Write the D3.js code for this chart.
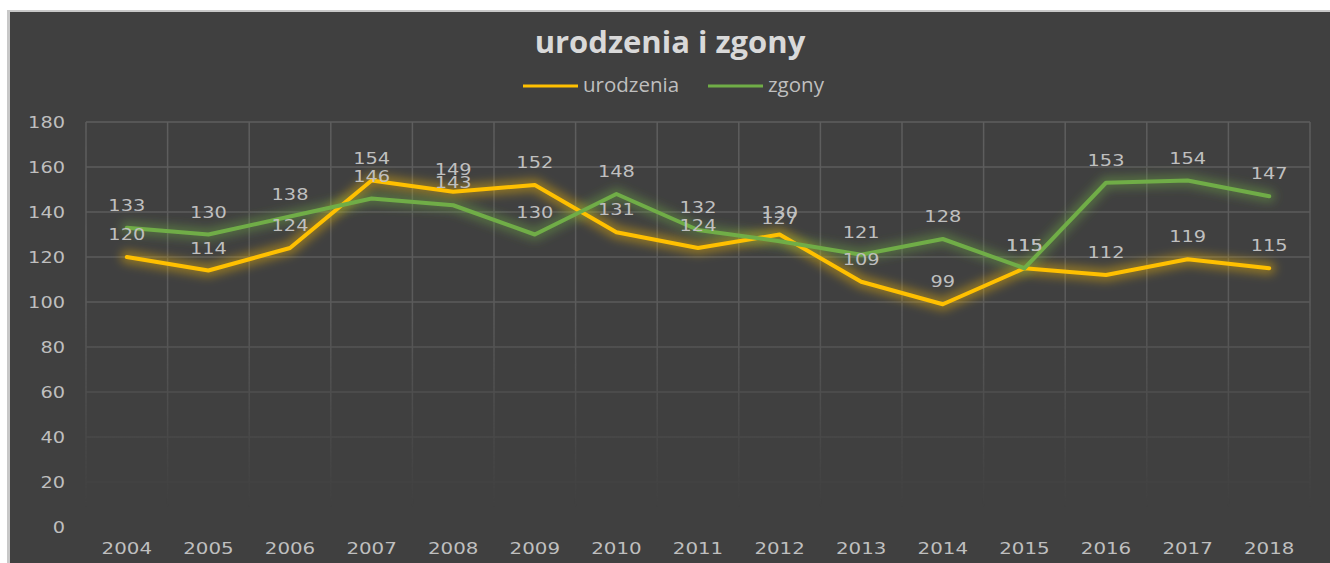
<!DOCTYPE html>
<html><head><meta charset="utf-8">
<script src="https://cdn.jsdelivr.net/npm/d3@7"></script>
<style>html,body{margin:0;padding:0;background:#fff;overflow:hidden}
.num{font-family:"DejaVu Sans",Verdana,sans-serif}
.ttl{font-family:"Open Sans",sans-serif}</style>
</head><body><svg id="c" width="1330" height="563"></svg>
<script>
const years = ["2004","2005","2006","2007","2008","2009","2010","2011","2012","2013","2014","2015","2016","2017","2018"];
const urodzenia = [120,114,124,154,149,152,131,124,130,109,99,115,112,119,115];
const zgony = [133,130,138,146,143,130,148,132,127,121,128,115,153,154,147];
const yTicks = [0,20,40,60,80,100,120,140,160,180];
const seriesNames = ["urodzenia","zgony"];
const seriesColors = ["#FFC000","#70AD47"];
const title = "urodzenia i zgony";

const svg = d3.select("#c");
const W = 1330, H = 563;
const defs = svg.append("defs");
const bf = defs.append("filter").attr("id","blur").attr("filterUnits","userSpaceOnUse")
  .attr("x",0).attr("y",0).attr("width",W).attr("height",H);
bf.append("feGaussianBlur").attr("stdDeviation",5);

const grad = defs.append("linearGradient").attr("id","fade").attr("gradientUnits","userSpaceOnUse")
  .attr("x1",0).attr("y1",122).attr("x2",0).attr("y2",528);
grad.append("stop").attr("offset","0%").attr("stop-color","#fff").attr("stop-opacity",1);
grad.append("stop").attr("offset","45%").attr("stop-color","#fff").attr("stop-opacity",0.9);
grad.append("stop").attr("offset","80%").attr("stop-color","#fff").attr("stop-opacity",0.25);
grad.append("stop").attr("offset","95%").attr("stop-color","#fff").attr("stop-opacity",0);
const mask = defs.append("mask").attr("id","gm").attr("maskUnits","userSpaceOnUse")
  .attr("x",0).attr("y",0).attr("width",W).attr("height",H);
mask.append("rect").attr("x",0).attr("y",0).attr("width",W).attr("height",H).attr("fill","url(#fade)");

// background
svg.append("rect").attr("x",0).attr("y",0).attr("width",W).attr("height",H).attr("fill","#ffffff");
svg.append("rect").attr("x",7).attr("y",10).attr("width",W-7).attr("height",H-10).attr("fill","#c8c8c8");
svg.append("rect").attr("x",10).attr("y",12).attr("width",W-10).attr("height",H-12).attr("fill","#404040");

const x = d3.scaleBand().domain(years).range([86,1310]);
const y = d3.scaleLinear().domain([0,180]).range([527,122]);

// grid
const grid = svg.append("g").attr("mask","url(#gm)");
grid.selectAll("line.h").data(yTicks.filter(v=>v>0)).join("line")
  .attr("x1",86).attr("x2",1310).attr("y1",d=>y(d)).attr("y2",d=>y(d))
  .attr("stroke","#5e5e5e").attr("stroke-width",1.5);
const vx = years.map(d=>x(d)).concat([x.range()[1]]);
grid.selectAll("line.v").data(vx).join("line")
  .attr("x1",d=>d).attr("x2",d=>d).attr("y1",122).attr("y2",527)
  .attr("stroke","#5e5e5e").attr("stroke-width",1.5);

const DW = 12.3; // glyph advance for wide numerals
// axes
const yAxis = svg.append("g").attr("transform","translate(65,0)")
  .call(d3.axisLeft(y).tickValues(yTicks).tickSize(0).tickPadding(0));
yAxis.attr("font-family",null).attr("font-size",null);
yAxis.select(".domain").remove();
yAxis.selectAll("text").attr("class","num").attr("fill","#bfbfbf").style("font-size","16px")
  .attr("textLength",function(){return this.textContent.length*DW;}).attr("lengthAdjust","spacingAndGlyphs");
const xAxis = svg.append("g").attr("transform","translate(0,542)")
  .call(d3.axisBottom(x).tickSize(0).tickPadding(0));
xAxis.attr("font-family",null).attr("font-size",null);
xAxis.select(".domain").remove();
xAxis.selectAll("text").attr("class","num").attr("fill","#bfbfbf").attr("dy","0.71em").style("font-size","16.5px")
  .attr("textLength",function(){return this.textContent.length*12.6;}).attr("lengthAdjust","spacingAndGlyphs");

// lines
const cx = d => x(d)+x.bandwidth()/2;
const line = d3.line().x((d,i)=>cx(years[i])).y(d=>y(d));
[urodzenia,zgony].forEach((s,i)=>{
  svg.append("path").datum(s).attr("d",line).attr("fill","none")
    .attr("stroke",seriesColors[i]).attr("stroke-width",13).attr("stroke-opacity",0.4)
    .attr("stroke-linejoin","round").attr("stroke-linecap","round")
    .attr("filter","url(#blur)");
});
[urodzenia,zgony].forEach((s,i)=>{
  svg.append("path").datum(s).attr("d",line).attr("fill","none")
    .attr("stroke",seriesColors[i]).attr("stroke-width",4)
    .attr("stroke-linejoin","round").attr("stroke-linecap","round");
});
// labels
[urodzenia,zgony].forEach((s,i)=>{
  svg.append("g").selectAll("text").data(s).join("text")
    .attr("class","num")
    .attr("x",(d,j)=>cx(years[j])).attr("y",d=>y(d)-17)
    .attr("text-anchor","middle").attr("fill","#bfbfbf")
    .style("font-size","16.5px")
    .attr("textLength",d=>String(d).length*DW).attr("lengthAdjust","spacingAndGlyphs")
    .text(d=>d);
});

// title
svg.append("text").attr("class","ttl").attr("x",670).attr("y",53).attr("text-anchor","middle")
  .attr("fill","#d9d9d9").style("font-weight","bold").style("font-size","31px")
  .text(title);
// legend
const lg = [{x:523,tx:583},{x:708,tx:768}];
seriesNames.forEach((n,i)=>{
  svg.append("line").attr("x1",lg[i].x).attr("x2",lg[i].x+55).attr("y1",86).attr("y2",86)
    .attr("stroke",seriesColors[i]).attr("stroke-width",3);
  svg.append("text").attr("class","ttl").attr("x",lg[i].tx).attr("y",92).attr("fill","#bfbfbf")
    .style("font-size","20.5px").text(n);
});
</script></body></html>
